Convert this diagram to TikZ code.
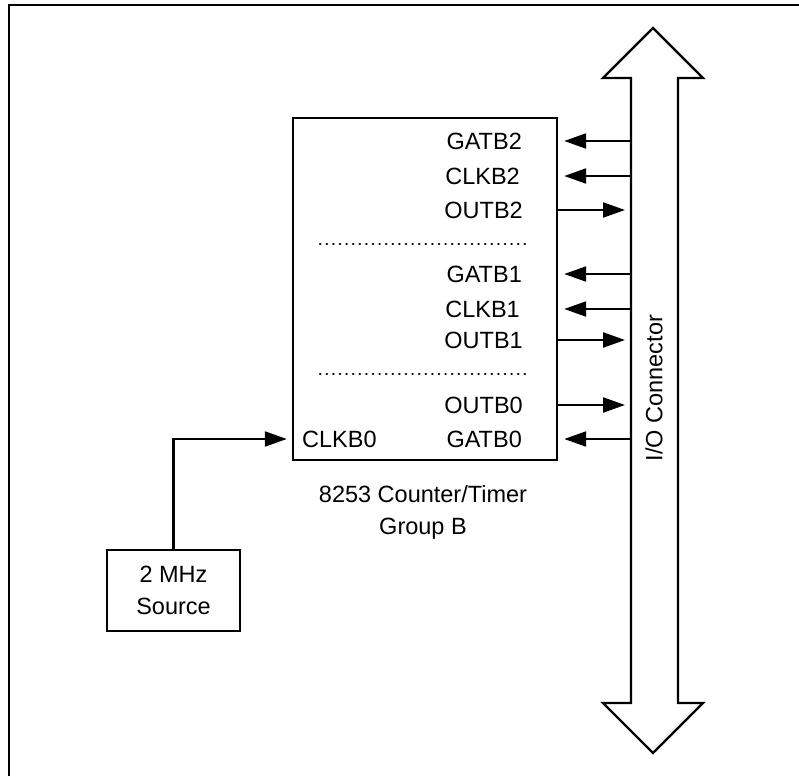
\documentclass[tikz,border=0pt]{standalone}
\usepackage{fontspec}
\setmainfont{Liberation Sans}
\usetikzlibrary{arrows.meta,calc}
\tikzset{
  lbl/.style={font=\fontsize{23.5}{32}\selectfont, inner sep=0pt},
  sig/.style={line width=2.2pt, -{Triangle[length=22pt,width=15pt]}},
  blk/.style={draw, line width=2.4pt, rectangle, inner sep=0pt},
  sepline/.style={line width=2.4pt, line cap=round, dash pattern=on 0.4pt off 6.2pt},
}
\begin{document}
\begin{tikzpicture}[x=1pt,y=-1pt]
\useasboundingbox (0,0) rectangle (799,776);
% frame (top and left edges visible)
\draw[line width=2.6pt] (9,776) -- (9,5) -- (799,5);
% I/O connector double arrow
\draw[line width=2.4pt, line join=miter] (631,78) -- (603,78) -- (653,28) -- (703,78) -- (678,78)
  -- (678,703) -- (703,703) -- (653,753) -- (603,703) -- (631,703) -- cycle;
\node[lbl, rotate=90] (io) at (654,388) {I/O Connector};
% counter block
\node[blk, minimum width=264pt, minimum height=342pt] (ctr) at (425,289) {};
% connection points on the connector shaft
\coordinate (pg2) at (631,141);
\coordinate (pc2) at (631,176);
\coordinate (po2) at (631,210);
\coordinate (pg1) at (631,274);
\coordinate (pc1) at (631,309);
\coordinate (po1) at (631,340);
\coordinate (po0) at (631,405);
\coordinate (pg0) at (631,439);
% labels
\node[lbl, anchor=east] (lg2) at (522,141) {GATB2};
\node[lbl, anchor=east] (lc2) at (520,176) {CLKB2};
\node[lbl, anchor=east] (lo2) at (523,210) {OUTB2};
\node[lbl, anchor=east] (lg1) at (522,274) {GATB1};
\node[lbl, anchor=east] (lc1) at (520,309) {CLKB1};
\node[lbl, anchor=east] (lo1) at (523,340) {OUTB1};
\node[lbl, anchor=east] (lo0) at (523,405) {OUTB0};
\node[lbl, anchor=east] (lg0) at (522,439) {GATB0};
\node[lbl, anchor=west] (lc0) at (302,439) {CLKB0};
% separators
\draw[sepline] (320,244) -- (530,244);
\draw[sepline] (320,374) -- (530,374);
% signal arrows
\draw[sig] (pg2) -- ([xshift=6pt]ctr.east |- pg2);
\draw[sig] (pc2) -- ([xshift=6pt]ctr.east |- pc2);
\draw[sig] (ctr.east |- po2) -- ([xshift=-6pt]po2);
\draw[sig] (pg1) -- ([xshift=6pt]ctr.east |- pg1);
\draw[sig] (pc1) -- ([xshift=6pt]ctr.east |- pc1);
\draw[sig] (ctr.east |- po1) -- ([xshift=-6pt]po1);
\draw[sig] (ctr.east |- po0) -- ([xshift=-6pt]po0);
\draw[sig] (pg0) -- ([xshift=6pt]ctr.east |- pg0);
% caption
\node[lbl, align=center] (cap) at (423,512) {8253 Counter/Timer\\Group B};
% source
\node[blk, lbl, minimum width=133pt, minimum height=81pt, align=center] (src) at (173.5,590.5) {2 MHz\\Source};
\draw[sig, line join=miter] (src.north) |- ([xshift=-5pt]ctr.west |- lc0);
\end{tikzpicture}
\end{document}
